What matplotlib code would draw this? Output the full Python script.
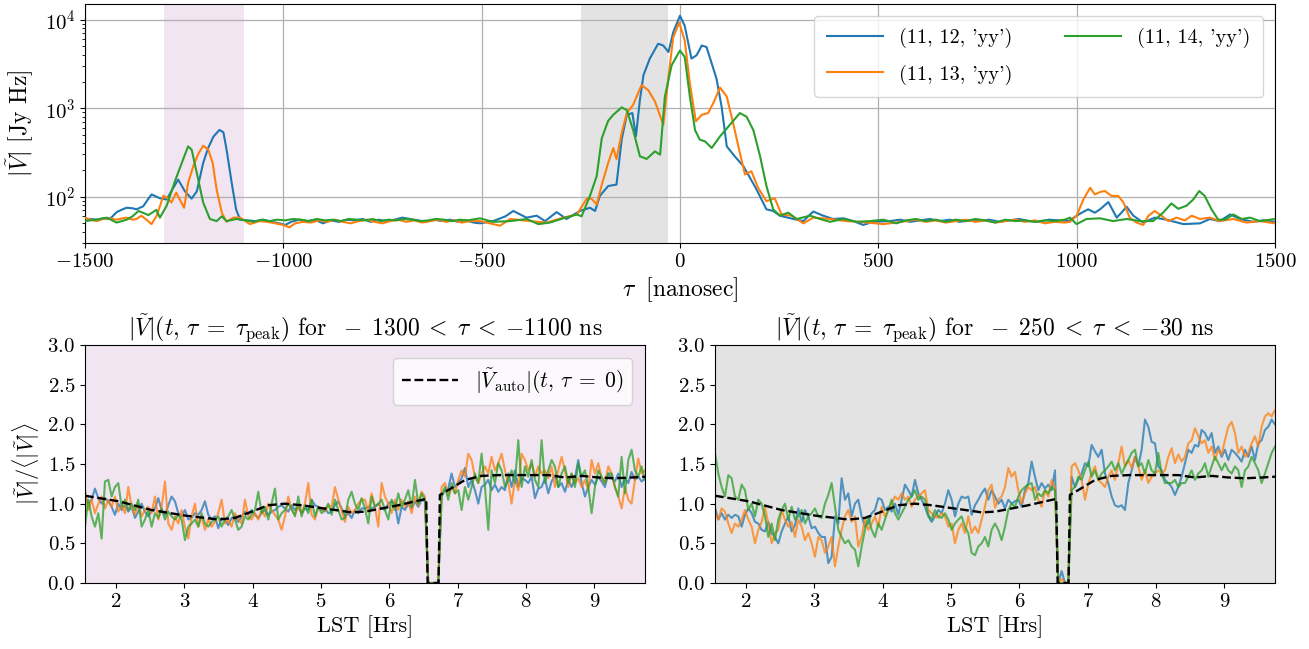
import numpy as np
import matplotlib
matplotlib.use("Agg")
import matplotlib.pyplot as plt

plt.rcParams.update({
    "font.family": "serif",
    "font.serif": ["cmr10"],
    "mathtext.fontset": "cm",
    "axes.formatter.use_mathtext": True,
    "font.size": 15,
    "xtick.labelsize": 15,
    "ytick.labelsize": 15,
    "axes.unicode_minus": True,
})

# ---------------- top panel data (delay spectra) ----------------
tau_b = [-1500, -1485, -1470, -1455, -1437, -1420, -1405, -1395, -1380, -1370, -1353, -1340, -1332, -1320,
         -1311, -1294, -1280, -1265, -1248, -1231, -1218, -1202, -1190, -1176, -1161, -1151, -1143, -1130,
         -1119, -1109, -1090, -1070, -1050, -1030, -1010, -995, -980, -960, -940, -920, -900, -880, -860,
         -840, -820, -800, -780, -760, -740, -720, -700, -680, -660, -640, -620, -600, -580, -560, -540,
         -520, -504, -471, -440, -420, -400, -387, -361, -340, -311, -286, -252, -227, -214, -202, -181,
         -160, -147, -134, -120, -111, -101, -92, -76, -55, -42, -29, -17, 0, 12, 29, 42, 55, 67, 92, 105,
         118, 138, 160, 193, 218, 235, 252, 286, 311, 336, 361, 386, 412, 437, 462, 487, 529, 555, 580, 605,
         630, 655, 680, 705, 730, 755, 780, 805, 830, 855, 880, 905, 930, 955, 980, 1000, 1013, 1029, 1046,
         1059, 1080, 1101, 1113, 1126, 1143, 1168, 1197, 1227, 1269, 1311, 1336, 1361, 1387, 1412, 1445,
         1470, 1500]
amp_b = [53, 56, 55, 57, 56, 67, 72, 75, 74, 72, 78, 95, 106, 100,
         96, 93, 120, 156, 115, 95, 115, 240, 350, 478, 567, 535, 340, 143,
         72, 55, 54, 53, 55, 52, 50, 48, 52, 55, 53, 55, 50, 54, 52,
         55, 54, 56, 52, 55, 53, 55, 58, 56, 54, 52, 55, 53, 55, 52, 54,
         51, 50, 53, 60, 69, 62, 58, 61, 53, 67, 56, 69, 75, 69, 102, 132,
         137, 441, 842, 880, 480, 1240, 2360, 3630, 5340, 5100, 4300, 7200, 11050, 8500, 3630, 3960, 5100, 4900, 2160, 1040,
         370, 286, 221, 121, 72, 69, 61, 56, 53, 68, 61, 56, 57, 53, 48, 52, 53, 55, 52, 54,
         56, 53, 55, 52, 54, 53, 55, 52, 54, 56, 53, 52, 55, 54, 53, 61, 66, 72, 66,
         72, 87, 58, 66, 77, 61, 51, 58, 55, 49, 50, 56, 53, 63, 56, 52,
         54, 52]

tau_o = [-1500, -1485, -1470, -1455, -1440, -1420, -1405, -1395, -1380, -1370, -1358, -1345, -1332, -1320,
         -1315, -1302, -1290, -1282, -1270, -1250, -1240, -1227, -1215, -1202, -1189, -1178, -1168, -1155,
         -1143, -1126, -1109, -1084, -1060, -1040, -1020, -1000, -985, -970, -950, -930, -910, -890, -870,
         -850, -830, -810, -790, -770, -750, -730, -710, -690, -670, -650, -630, -610, -590, -570, -550,
         -530, -504, -479, -454, -428, -378, -336, -294, -260, -235, -223, -210, -197, -181, -168, -160,
         -147, -134, -118, -97, -80, -63, -42, -29, -17, -2, 12, 25, 40, 55, 71, 84, 101, 118, 134, 151,
         164, 180, 197, 218, 239, 256, 281, 311, 336, 378, 420, 454, 513, 545, 570, 595, 620, 645, 670, 695,
         720, 745, 770, 795, 820, 845, 870, 895, 920, 945, 970, 983, 1000, 1017, 1034, 1046, 1059, 1071,
         1088, 1105, 1118, 1134, 1151, 1168, 1181, 1197, 1214, 1231, 1252, 1273, 1290, 1311, 1336, 1361,
         1395, 1428, 1462, 1500]
amp_o = [58, 55, 53, 56, 57, 55, 57, 58, 55, 56, 61, 55, 49, 60,
         69, 103, 95, 86, 111, 75, 143, 221, 300, 377, 340, 240, 120, 66,
         52, 58, 58, 49, 53, 52, 50, 48, 45, 50, 52, 51, 54, 52, 55,
         52, 50, 53, 55, 52, 50, 53, 55, 52, 54, 51, 53, 55, 52, 54, 51,
         53, 53, 50, 47, 56, 53, 51, 58, 63, 95, 95, 82, 137, 240, 355, 265,
         522, 880, 1090, 1820, 1600, 1190, 650, 2260, 6300, 9300, 5800, 1900, 710, 842, 880, 1140, 1710, 1350, 680, 312,
         178, 194, 126, 89, 96, 63, 61, 50, 58, 56, 53, 52, 49, 51, 53, 55, 52, 54, 51, 53,
         55, 52, 54, 51, 53, 55, 52, 54, 50, 52, 51, 52, 61, 93, 126, 106, 113, 116,
         102, 102, 86, 58, 51, 48, 61, 69, 61, 53, 58, 54, 61, 56, 58, 53,
         56, 51, 53, 50]

tau_g = [-1500, -1470, -1445, -1420, -1395, -1380, -1365, -1340, -1320, -1311, -1294, -1273, -1256, -1240,
         -1231, -1218, -1202, -1185, -1168, -1155, -1143, -1118, -1095, -1075, -1055, -1035, -1015, -995,
         -975, -955, -935, -915, -895, -875, -855, -835, -815, -795, -775, -755, -735, -715, -695, -675,
         -655, -635, -615, -595, -575, -555, -535, -504, -471, -428, -386, -357, -328, -294, -260, -248,
         -227, -210, -197, -181, -168, -147, -134, -118, -101, -84, -63, -50, -38, -21, 0, 12, 25, 38, 50,
         63, 80, 101, 126, 151, 168, 185, 202, 218, 235, 252, 273, 294, 328, 353, 378, 412, 445, 479, 513,
         545, 570, 595, 620, 645, 670, 695, 720, 745, 770, 795, 820, 845, 870, 895, 920, 945, 970, 983,
         1000, 1025, 1059, 1092, 1126, 1160, 1193, 1218, 1239, 1256, 1277, 1294, 1309, 1323, 1340, 1357,
         1374, 1395, 1416, 1437, 1462, 1500]
amp_g = [53, 55, 58, 51, 55, 60, 69, 62, 71, 58, 79, 150, 240, 370,
         340, 185, 86, 56, 53, 60, 53, 56, 54, 52, 55, 53, 55, 54,
         56, 55, 53, 56, 54, 55, 53, 56, 55, 54, 56, 53, 55, 54, 56, 55,
         53, 54, 56, 55, 53, 55, 54, 57, 52, 53, 56, 49, 51, 57, 63, 60,
         102, 170, 459, 720, 842, 1020, 950, 565, 286, 267, 325, 298, 1350, 3050, 4480, 3780, 1350, 565, 441,
         422, 355, 480, 650, 880, 800, 565, 286, 132, 72, 61, 66, 56, 61, 56, 52, 56, 52, 53, 55,
         50, 54, 56, 53, 55, 52, 55, 53, 56, 54, 51, 55, 53, 54, 52, 54, 53, 55, 58,
         49, 56, 57, 53, 56, 53, 53, 66, 84, 73, 79, 93, 116, 102, 72, 55,
         55, 63, 56, 58, 53, 56]

labels = ["(11, 12, 'yy')", "(11, 13, 'yy')", "(11, 14, 'yy')"]

# ---------------- bottom panels data (normalised |V| vs LST) ----------------
lst_start, lst_stop = 1.547, 9.74

left_blue = [
    1.09, 1.00, 1.05, 1.19, 1.07, 1.00, 1.07, 1.03, 0.96, 0.86,
    1.00, 0.92, 0.98, 0.90, 0.96, 0.82, 0.90, 1.00, 0.90, 0.84,
    0.92, 0.94, 1.07, 0.92, 0.86, 0.98, 1.09, 1.03, 0.88, 0.84,
    0.92, 0.80, 0.82, 0.88, 0.86, 0.92, 1.03, 0.86, 0.80, 0.84,
    0.69, 0.82, 0.80, 0.73, 0.82, 0.84, 0.77, 0.84, 0.90, 0.86,
    0.92, 0.86, 0.82, 0.88, 0.92, 0.86, 0.90, 0.92, 0.96, 0.98,
    0.94, 0.90, 0.98, 0.92, 0.96, 0.88, 0.94, 0.92, 1.05, 0.98,
    0.96, 0.92, 0.94, 0.88, 0.90, 0.98, 1.03, 0.94, 0.84, 0.88,
    0.82, 0.92, 0.88, 0.94, 0.94, 0.96, 0.94, 0.96, 1.00, 0.94,
    0.92, 1.00, 1.03, 1.00, 0.75, 0.96, 0.92, 1.00, 0.94, 1.03,
    0.96, 1.05, 1.03, 0.00, 0.00, 0.00, 0.00, 1.09, 1.17, 1.19,
    1.38, 1.21, 1.26, 1.32, 1.45, 1.21, 1.30, 1.17, 1.00, 1.21,
    1.24, 1.30, 1.17, 1.24, 1.15, 1.21, 1.17, 1.38, 1.21, 1.42,
    1.21, 1.32, 1.30, 1.26, 1.34, 1.07, 1.19, 1.21, 1.32, 1.13,
    1.28, 1.36, 1.21, 1.26, 1.15, 1.30, 1.21, 1.32, 1.55, 1.26,
    1.09, 1.21, 1.30, 1.24, 1.34, 1.28, 1.21, 1.38, 1.32, 1.28,
    1.38, 1.21, 1.32, 1.26, 1.40, 1.30, 1.34, 1.28, 1.32]
left_orange = [
    1.17, 0.92, 1.05, 0.88, 1.00, 1.09, 0.94, 1.05, 0.96, 1.09,
    0.90, 0.98, 0.88, 1.21, 0.96, 0.86, 1.00, 0.84, 0.92, 0.96,
    0.88, 1.09, 0.80, 0.96, 1.28, 0.75, 0.67, 0.84, 0.75, 0.92,
    0.71, 0.56, 0.84, 1.00, 0.71, 0.84, 0.67, 0.80, 0.71, 0.77,
    0.88, 1.05, 0.75, 0.80, 0.71, 0.88, 0.80, 0.75, 1.05, 0.84,
    0.80, 0.88, 0.80, 0.92, 0.84, 1.00, 0.92, 0.86, 0.80, 0.67,
    0.84, 1.09, 0.92, 0.86, 0.96, 0.88, 1.00, 1.26, 0.86, 0.80,
    0.96, 0.94, 0.90, 0.98, 0.96, 1.21, 1.05, 0.92, 0.77, 0.96,
    0.88, 0.92, 1.00, 1.05, 1.05, 0.90, 1.13, 0.96, 0.71, 1.26,
    1.09, 1.00, 0.88, 1.05, 0.92, 1.05, 0.96, 1.03, 0.88, 1.09,
    0.98, 1.15, 1.09, 0.00, 0.00, 0.00, 0.00, 1.21, 1.26, 1.11,
    1.21, 1.13, 1.30, 1.42, 1.34, 1.63, 1.55, 1.34, 1.26, 1.38,
    1.47, 1.38, 1.59, 1.42, 1.51, 1.63, 1.42, 1.26, 1.00, 1.30,
    1.17, 1.63, 1.55, 1.42, 1.51, 1.34, 1.47, 1.38, 1.42, 1.32,
    1.47, 1.21, 1.42, 1.59, 1.42, 1.21, 1.38, 1.26, 1.32, 1.21,
    1.30, 1.17, 1.55, 1.38, 1.51, 1.32, 1.26, 1.47, 1.38, 1.21,
    1.09, 0.94, 1.21, 1.05, 1.00, 1.30, 1.57, 1.38, 1.42]
left_green = [
    0.71, 1.05, 0.84, 0.71, 0.88, 0.56, 1.28, 1.30, 1.09, 1.21,
    1.26, 0.96, 1.05, 0.92, 1.00, 0.92, 1.05, 0.71, 0.80, 0.92,
    0.71, 0.88, 0.82, 0.94, 0.80, 0.90, 0.84, 0.80, 0.86, 0.80,
    0.54, 0.71, 0.75, 0.80, 0.71, 0.88, 0.75, 0.71, 0.77, 0.80,
    0.84, 0.71, 0.80, 0.84, 0.92, 0.80, 0.67, 0.71, 0.84, 0.80,
    0.86, 0.92, 1.15, 0.88, 0.96, 0.80, 1.00, 1.19, 0.80, 0.88,
    0.92, 1.00, 0.94, 0.84, 1.09, 0.84, 0.98, 0.88, 1.05, 0.84,
    0.96, 0.88, 0.92, 1.00, 0.86, 1.05, 0.92, 0.80, 0.82, 1.05,
    1.15, 1.00, 0.92, 1.07, 0.94, 0.75, 1.09, 0.96, 1.00, 1.05,
    0.92, 0.80, 1.05, 0.92, 1.13, 0.96, 1.05, 1.17, 0.96, 1.30,
    1.00, 1.13, 1.05, 0.00, 0.00, 0.00, 0.00, 1.09, 1.21, 1.05,
    1.26, 1.13, 1.17, 0.92, 1.21, 1.05, 1.21, 1.38, 1.26, 1.63,
    1.21, 0.67, 1.42, 1.26, 1.51, 1.42, 1.21, 1.30, 1.42, 1.26,
    1.80, 1.21, 1.47, 1.34, 1.55, 1.30, 1.21, 1.80, 1.26, 1.42,
    1.55, 1.47, 1.21, 1.38, 1.47, 1.26, 1.38, 1.21, 1.51, 1.34,
    1.42, 1.21, 0.88, 1.21, 1.42, 1.34, 1.26, 1.38, 1.38, 1.21,
    1.09, 1.59, 1.13, 1.55, 1.68, 1.42, 1.34, 1.47, 1.30]

right_blue = [
    0.95, 0.80, 0.88, 0.80, 0.86, 0.82, 0.86, 0.84, 0.71, 0.86,
    0.94, 0.88, 0.77, 0.75, 0.67, 0.65, 0.77, 0.63, 0.58, 0.50,
    0.65, 0.75, 0.84, 0.65, 0.73, 0.94, 0.77, 0.92, 0.84, 0.69,
    0.71, 0.63, 0.58, 0.58, 0.25, 0.33, 0.84, 0.75, 1.32, 1.05,
    1.13, 0.84, 1.00, 1.05, 0.84, 0.71, 0.75, 0.88, 0.92, 1.07,
    1.05, 0.92, 0.96, 0.90, 1.00, 0.86, 1.05, 1.24, 1.17, 1.09,
    1.30, 1.13, 1.05, 0.96, 0.84, 0.77, 0.84, 0.92, 0.88, 1.00,
    1.17, 1.05, 0.84, 1.00, 1.09, 1.07, 1.09, 0.86, 0.98, 1.05,
    1.13, 1.19, 1.05, 1.17, 1.09, 1.00, 1.05, 0.94, 1.05, 1.00,
    1.03, 1.05, 0.96, 1.17, 1.26, 1.53, 1.34, 1.17, 1.26, 1.19,
    1.24, 1.17, 1.42, 0.00, 0.15, 0.00, 0.00, 1.34, 1.21, 1.30,
    1.38, 1.51, 1.47, 1.74, 1.66, 1.59, 1.68, 1.38, 1.26, 1.09,
    0.98, 0.96, 0.98, 0.92, 1.26, 1.42, 1.59, 1.47, 1.68, 2.06,
    1.97, 1.78, 1.76, 1.47, 1.42, 1.30, 1.26, 1.21, 1.11, 1.21,
    1.34, 1.51, 1.68, 1.64, 1.74, 1.72, 1.93, 1.89, 1.80, 1.89,
    1.64, 1.72, 1.59, 1.68, 1.55, 1.68, 1.64, 1.59, 1.53, 1.68,
    1.59, 1.72, 1.55, 1.76, 1.80, 1.93, 1.97, 2.06, 2.00]
right_orange = [
    0.88, 0.80, 0.94, 0.90, 0.75, 0.63, 0.75, 0.71, 0.80, 0.92,
    0.80, 0.71, 0.50, 0.67, 0.77, 0.96, 0.75, 0.50, 0.63, 0.67,
    0.92, 0.80, 0.71, 0.77, 0.58, 0.80, 0.71, 0.54, 0.63, 0.50,
    0.33, 0.58, 0.54, 0.38, 0.46, 0.58, 0.21, 0.46, 0.67, 0.84,
    0.92, 0.77, 0.84, 0.46, 0.58, 0.80, 0.67, 0.75, 0.84, 0.71,
    0.96, 0.84, 0.92, 1.00, 1.09, 1.05, 1.13, 1.05, 1.09, 0.96,
    1.05, 1.09, 1.13, 1.17, 0.92, 0.88, 0.84, 0.82, 0.88, 0.84,
    0.71, 0.75, 0.50, 0.67, 0.75, 0.63, 0.84, 0.63, 0.71, 0.63,
    0.80, 0.96, 1.17, 1.24, 0.95, 1.05, 1.09, 1.21, 1.45, 1.34,
    1.40, 1.17, 1.00, 1.13, 1.21, 1.17, 1.21, 1.05, 0.96, 1.17,
    1.09, 1.30, 1.20, 0.00, 0.05, 0.00, 0.00, 1.47, 1.51, 1.42,
    1.30, 1.05, 1.25, 1.38, 1.47, 1.30, 1.26, 1.21, 1.34, 1.42,
    1.30, 1.51, 1.72, 1.47, 1.55, 1.45, 1.59, 1.47, 1.30, 1.42,
    1.26, 1.34, 1.38, 1.42, 1.38, 1.42, 1.59, 1.70, 1.51, 1.62,
    1.53, 1.59, 1.76, 1.80, 1.95, 1.85, 1.76, 1.80, 1.64, 1.72,
    1.55, 1.68, 1.62, 1.80, 1.97, 2.03, 1.89, 1.64, 1.72, 1.59,
    1.64, 1.76, 1.85, 1.72, 1.97, 2.10, 2.14, 2.10, 2.18]
right_green = [
    1.64, 1.38, 1.21, 1.09, 1.36, 1.32, 1.09, 1.05, 1.24, 1.17,
    0.92, 1.00, 0.84, 1.05, 1.00, 0.84, 0.58, 0.75, 0.54, 0.80,
    0.92, 1.00, 0.80, 0.96, 0.80, 0.84, 0.92, 0.75, 0.84, 0.88,
    0.94, 0.84, 0.82, 1.00, 1.11, 1.26, 0.96, 0.67, 0.58, 0.50,
    0.54, 0.46, 0.42, 0.21, 0.46, 0.67, 0.84, 0.67, 0.58, 0.75,
    0.67, 0.80, 0.92, 1.05, 0.88, 0.80, 0.88, 0.96, 1.05, 1.09,
    1.17, 1.05, 1.09, 1.05, 0.86, 0.80, 0.92, 0.84, 0.82, 0.88,
    0.80, 0.67, 0.75, 0.80, 0.84, 0.71, 0.63, 0.38, 0.35, 0.46,
    0.50, 0.58, 0.46, 0.67, 0.75, 0.67, 0.54, 0.71, 0.92, 1.00,
    0.96, 1.09, 1.17, 1.21, 1.24, 1.26, 1.05, 1.13, 1.09, 1.17,
    1.13, 1.21, 1.17, 0.00, 0.00, 0.00, 0.00, 1.17, 1.21, 1.34,
    1.30, 1.42, 1.53, 1.34, 1.42, 1.30, 1.38, 1.42, 1.47, 1.53,
    1.42, 1.51, 1.38, 1.47, 1.55, 1.64, 1.68, 1.47, 1.51, 1.38,
    1.55, 1.42, 1.38, 1.64, 1.38, 1.26, 1.26, 1.26, 1.30, 1.21,
    1.26, 1.26, 1.34, 1.42, 1.30, 1.38, 1.42, 1.51, 1.34, 1.47,
    1.59, 1.51, 1.42, 1.51, 1.42, 1.38, 1.47, 1.42, 1.21, 1.42,
    1.47, 1.59, 1.51, 1.42, 1.26, 1.38, 1.51, 1.64, 1.72]

auto_lst = [1.547, 2.04, 2.52, 3.01, 3.50, 3.74, 3.99, 4.23, 4.47, 4.72, 4.96, 5.21, 5.45, 5.65,
            5.89, 6.13, 6.38, 6.54, 6.56, 6.72, 6.74, 6.86, 7.11, 7.35, 7.60, 8.08, 8.33, 8.57,
            8.82, 9.06, 9.30, 9.55, 9.74]
auto_val = [1.10, 1.03, 0.92, 0.85, 0.80, 0.82, 0.90, 0.98, 1.00, 0.98, 0.95, 0.92, 0.89, 0.90,
            0.94, 0.98, 1.03, 1.06, 0.00, 0.00, 1.11, 1.17, 1.30, 1.35, 1.36, 1.36, 1.36, 1.33,
            1.35, 1.33, 1.32, 1.33, 1.34]

colors = ["#1f77b4", "#ff7f0e", "#2ca02c"]
purple_bg = "#f1e5f1"
gray_bg = "#e3e3e3"

# ---------------- figure ----------------
fig = plt.figure(figsize=(13.09, 6.49), dpi=100)
ax_top = fig.add_axes([0.0649, 0.6256, 0.9091, 0.3682])
ax_l = fig.add_axes([0.0649, 0.1017, 0.4278, 0.3667])
ax_r = fig.add_axes([0.5462, 0.1017, 0.4278, 0.3667])

ax_top.axvspan(-1300, -1100, color=purple_bg, zorder=0, lw=0)
ax_top.axvspan(-250, -30, color=gray_bg, zorder=0, lw=0)
for t, a, c, lab in zip([tau_b, tau_o, tau_g], [amp_b, amp_o, amp_g], colors, labels):
    ax_top.plot(t, a, color=c, lw=1.5, label=lab, zorder=3)
ax_top.set_yscale("log")
ax_top.set_xlim(-1500, 1500)
ax_top.set_ylim(30, 15000)
ax_top.set_xticks([-1500, -1000, -500, 0, 500, 1000, 1500])
ax_top.grid(True, which="major", color="#b0b0b0", lw=0.9, zorder=1)
ax_top.set_axisbelow(True)
ax_top.set_xlabel(r"$\tau\;$ [nanosec]", fontsize=17, labelpad=3)
ax_top.set_ylabel(r"$|\tilde{V}|$ [Jy Hz]", fontsize=17, labelpad=6)
ax_top.legend(loc="upper right", ncol=2, fontsize=14.5, handlelength=2.8,
              columnspacing=2.6, labelspacing=0.8, borderpad=0.6, borderaxespad=0.6)

lst = np.linspace(lst_start, lst_stop, len(left_blue))
for ax, series, bg, title in [
    (ax_l, [left_blue, left_orange, left_green], purple_bg,
     r"$|\tilde{V}|(t,\, \tau \;=\; \tau_{\rm peak})$ for $\;-\;1300 \;<\; \tau \;<\; {-1100}$ ns"),
    (ax_r, [right_blue, right_orange, right_green], gray_bg,
     r"$|\tilde{V}|(t,\, \tau \;=\; \tau_{\rm peak})$ for $\;-\;250 \;<\; \tau \;<\; {-30}$ ns"),
]:
    ax.set_facecolor(bg)
    for s, c in zip(series, colors):
        ax.plot(lst, s, color=c, lw=1.5, alpha=0.75)
    ax.plot(auto_lst, auto_val, "k--", lw=1.7,
            label=r"$|\tilde{V}_{\rm auto}|(t,\, \tau \;=\; 0)$")
    ax.set_xlim(lst_start, lst_stop)
    ax.set_ylim(0, 3)
    ax.set_yticks([0, 0.5, 1.0, 1.5, 2.0, 2.5, 3.0])
    ax.set_xticks([2, 3, 4, 5, 6, 7, 8, 9])
    ax.set_xlabel("LST [Hrs]", fontsize=16, labelpad=3)
    ax.set_title(title, fontsize=17, pad=5)

ax_l.set_ylabel(r"$|\tilde{V}|/\langle|\tilde{V}|\rangle$", fontsize=16)
ax_l.legend(loc="upper right", fontsize=15.5, handlelength=2.6, borderaxespad=0.6)

fig.savefig("out.png", dpi=100)
